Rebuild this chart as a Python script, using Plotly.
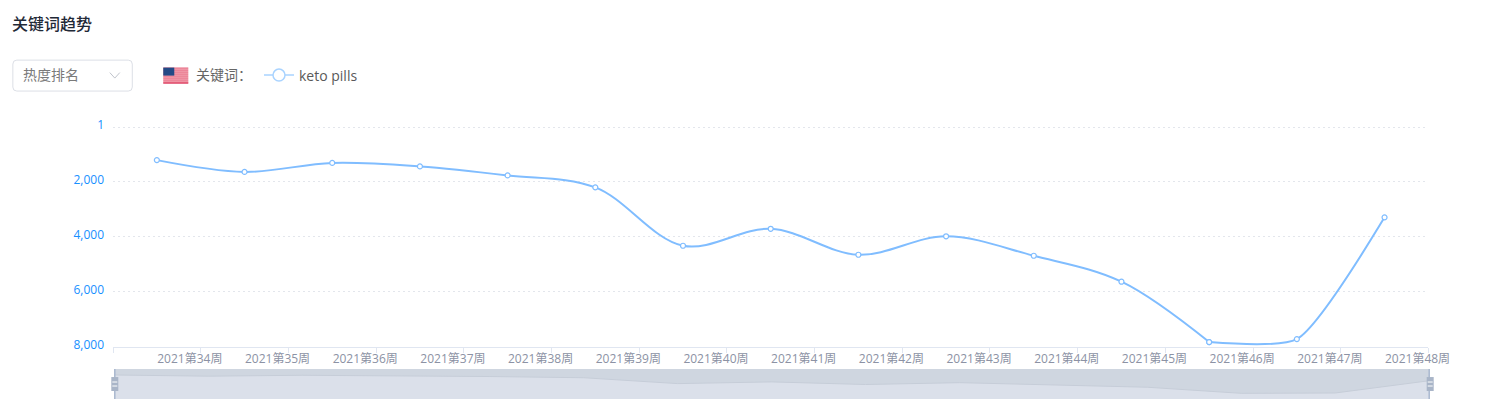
import plotly.graph_objects as go

weeks = [f"2021第{w}周" for w in range(34, 49)]
rank = [1207, 1636, 1309, 1436, 1764, 2200, 4327, 3709, 4655, 3982, 4691, 5636, 7836, 7727, 3291]
y_ticks = [1, 2000, 4000, 6000, 8000]
y_tick_labels = ["1", "2,000", "4,000", "6,000", "8,000"]
keyword = "keto pills"
title = "关键词趋势"
select_label = "热度排名"
keyword_label = "关键词："

FONT = "Open Sans, Noto Sans CJK SC, sans-serif"
LINE = "#80bdff"
W, H = 1488, 411
L, R, T, B = 112.7, 1429.3, 124.5, 399.0
PW, PH = R - L, B - T


def px(x):
    return (x - L) / PW


def py(y):
    return (B - y) / PH


def rect(x0, y0, x1, y1, fill, line=None):
    return dict(type="rect", xref="paper", yref="paper", x0=px(x0), x1=px(x1), y0=py(y0), y1=py(y1),
                fillcolor=fill, line=dict(width=1 if line else 0, color=line or fill), layer="above")


def seg(x0, y0, x1, y1, color, width=1):
    return dict(type="line", xref="paper", yref="paper", x0=px(x0), x1=px(x1), y0=py(y0), y1=py(y1),
                line=dict(color=color, width=width), layer="above")


def text(x, y, s, size, color, weight=None):
    return dict(xref="paper", yref="paper", x=px(x), y=py(y), text=s, showarrow=False, xanchor="left",
                yanchor="middle", xshift=0, font=dict(family=FONT, size=size, color=color, weight=weight))


main_dom = [0, 1316.0 / PW]
fig = go.Figure()

# main series (drawn in two runs so the curve stays flat through the trough at week 46)
fig.add_trace(go.Scatter(
    x=weeks[:13], y=rank[:13], name=keyword, mode="lines+markers", xaxis="x", yaxis="y", showlegend=False,
    line=dict(color=LINE, width=2, shape="spline", smoothing=1.0),
    marker=dict(size=5, color="white", line=dict(color=LINE, width=1.2)),
    hoverinfo="skip",
))
fig.add_trace(go.Scatter(
    x=weeks[12:], y=rank[12:], name=keyword, mode="lines+markers", xaxis="x", yaxis="y", showlegend=False,
    line=dict(color=LINE, width=2, shape="spline", smoothing=0.6),
    marker=dict(size=5, color="white", line=dict(color=LINE, width=1.2)),
    hoverinfo="skip",
))
# legend entry
fig.add_trace(go.Scatter(
    x=[None], y=[None], name=keyword, mode="lines+markers", xaxis="x", yaxis="y",
    line=dict(color="#a9d3ff", width=1.5),
    marker=dict(size=12, color="white", line=dict(color="#a9d3ff", width=1.5)),
    hoverinfo="skip",
))
# invisible carrier that makes the shifted label axis render
fig.add_trace(go.Scatter(
    x=weeks, y=rank, mode="markers", xaxis="x2", yaxis="y", showlegend=False,
    marker=dict(size=1, opacity=0), hoverinfo="skip",
))
# overview strip
mini_top, mini_bottom = -940, 9890
fig.add_trace(go.Scatter(
    x=weeks, y=[mini_bottom] * len(weeks), mode="lines", xaxis="x3", yaxis="y3", showlegend=False,
    line=dict(width=0), hoverinfo="skip",
))
fig.add_trace(go.Scatter(
    x=weeks, y=rank, mode="lines", xaxis="x3", yaxis="y3", showlegend=False,
    fill="tonexty", fillcolor="#dbe0ea", line=dict(color="#c6cdd8", width=1), hoverinfo="skip",
))

shapes = [
    # select box
    dict(type="path", xref="paper", yref="paper", layer="above",
         path=(f"M {px(16.5)} {py(59.5)} L {px(128)} {py(59.5)} Q {px(132)} {py(59.5)} {px(132)} {py(63.5)} "
               f"L {px(132)} {py(86.5)} Q {px(132)} {py(90.5)} {px(128)} {py(90.5)} L {px(16.5)} {py(90.5)} "
               f"Q {px(12.5)} {py(90.5)} {px(12.5)} {py(86.5)} L {px(12.5)} {py(63.5)} "
               f"Q {px(12.5)} {py(59.5)} {px(16.5)} {py(59.5)} Z"),
         line=dict(color="#dcdfe6", width=1), fillcolor="white"),
    dict(type="path", xref="paper", yref="paper", layer="above",
         path=f"M {px(109.5)} {py(72)} L {px(114.5)} {py(77.5)} L {px(119.5)} {py(72)}",
         line=dict(color="#c0c4cc", width=1)),
    # flag
    rect(163, 67, 188, 83, "#f3b6c0"),
]
for i in range(0, 8):
    shapes.append(rect(163, 67 + i * 2, 188, 68 + i * 2, "#e8667f"))
shapes.append(rect(163, 82, 188, 83, "#d9264d"))
shapes.append(rect(163, 67, 174, 75, "#234a86"))
# overview borders and handles
shapes += [
    seg(114.5, 369, 114.5, 399, "#a9b8cf", 1.5),
    seg(1429.5, 369, 1429.5, 399, "#a9b8cf", 1.5),
    rect(111, 377, 118, 391, "#a9b5c8"),
    seg(112, 382, 117, 382, "white", 1),
    seg(112, 386, 117, 386, "white", 1),
    rect(1427, 377, 1434, 391, "#a9b5c8"),
    seg(1428, 382, 1433, 382, "white", 1),
    seg(1428, 386, 1433, 386, "white", 1),
]

fig.update_layout(
    width=W, height=H, autosize=False,
    paper_bgcolor="white", plot_bgcolor="white",
    margin=dict(l=L, r=W - R, t=T, b=H - B, pad=0, autoexpand=False),
    font=dict(family=FONT),
    showlegend=True,
    legend=dict(xref="container", yref="container", x=259 / W, y=1 - 75.5 / H, xanchor="left", yanchor="middle",
                itemsizing="trace", itemwidth=30, bgcolor="rgba(0,0,0,0)",
                font=dict(family=FONT, size=14, color="#595959"), tracegroupgap=0),
    xaxis=dict(domain=main_dom, type="category", categoryorder="array", categoryarray=weeks, automargin=False,
               range=[-0.5, 14.5], anchor="y", tickson="boundaries", ticks="outside", ticklen=5,
               tickcolor="#e0e6f1", showline=True, linecolor="#e0e6f1", linewidth=1, showgrid=False,
               showticklabels=False, zeroline=False),
    xaxis2=dict(domain=main_dom, type="category", categoryorder="array", categoryarray=weeks, automargin=False,
                range=[-0.5 - 0.376, 14.5 - 0.376], anchor="y", overlaying="x", dtick=1, ticks="",
                showline=False, showgrid=False, zeroline=False, tickangle=0, ticklabelstandoff=3,
                tickfont=dict(family=FONT, size=12, color="#8c92a4")),
    yaxis=dict(domain=[(B - 346.5) / PH, 1], range=[8000, 1 - 2 * 2000 / 55], anchor="x", tickmode="array",
               automargin=False,
               tickvals=y_ticks, ticktext=y_tick_labels, ticks="", showline=False, zeroline=False,
               showgrid=True, gridcolor="#e3e6ec", griddash="2px,3px", gridwidth=1,
               ticklabelstandoff=8, ticklabelshift=2,
               tickfont=dict(family=FONT, size=12, color="#1890ff")),
    xaxis3=dict(domain=[px(114), 1], type="category", categoryorder="array", categoryarray=weeks,
                range=[0, 14], anchor="y3", showticklabels=False, ticks="", showgrid=False,
                showline=False, zeroline=False),
    yaxis3=dict(domain=[0, 30 / PH], range=[mini_bottom, mini_top], anchor="x3", showticklabels=False,
                ticks="", showgrid=False, showline=False, zeroline=False),
    shapes=shapes,
    annotations=[
        text(10, 23.5, title, 16, "#1f2937", 500),
        text(21, 73.5, select_label, 14, "#7a7a7a"),
        text(194, 73.5, keyword_label, 14, "#666666"),
    ],
)
# overview background
fig.add_shape(type="rect", xref="x3 domain", yref="y3 domain", x0=0, x1=1, y0=0, y1=1,
              fillcolor="#cfd6e0", line=dict(width=0), layer="below")

fig.write_html("out.html", config=dict(displayModeBar=False),
               post_script="document.body.style.margin='0';document.documentElement.style.overflow='hidden';")
